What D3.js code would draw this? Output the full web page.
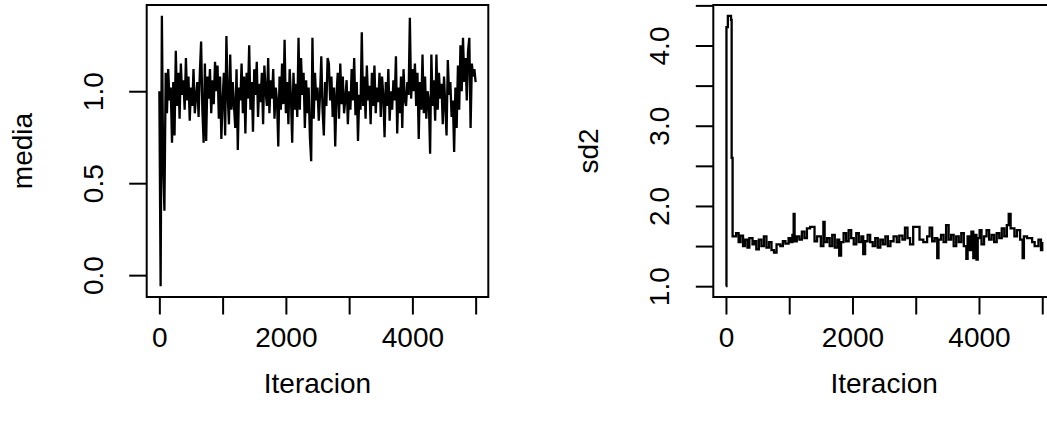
<!DOCTYPE html>
<html lang="en">
<head>
<meta charset="UTF-8">
<title>Trazas MCMC</title>
<script src="https://d3js.org/d3.v7.min.js"></script>
<style>
  body { margin: 0; background: #fff; }
  svg { display: block; font-family: "Liberation Sans", Arial, sans-serif; }
  .tick line { stroke: #000; stroke-width: 2; }
  .tick text { font-size: 28px; fill: #000; }
</style>
</head>
<body>
<svg id="chart" width="1047" height="426"></svg>
<script>
// media: one sample kept every 20 iterations (0 .. 5000)
const mediaIter = d3.range(0, 5001, 20);
const media = [
  1.00, -0.06, 1.41, 0.60, 0.35, 1.10, 0.88, 1.12, 0.95, 1.02,
  0.72, 1.05, 0.76, 1.22, 0.92, 1.10, 0.85, 1.15, 0.98, 1.06,
  0.90, 1.18, 0.95, 1.08, 0.84, 1.02, 0.92, 1.12, 0.88, 0.97,
  1.05, 0.86, 1.10, 1.27, 0.90, 0.72, 1.15, 0.73, 1.08, 0.96,
  1.12, 0.88, 1.06, 0.93, 1.16, 1.00, 1.14, 0.85, 1.08, 0.74,
  0.95, 1.10, 0.76, 1.30, 0.98, 0.82, 1.20, 0.90, 1.05, 0.92,
  0.80, 1.12, 0.68, 1.02, 0.95, 1.15, 0.88, 1.08, 0.77, 1.10,
  0.96, 1.25, 0.90, 1.05, 0.78, 1.12, 0.98, 1.16, 0.86, 1.04,
  0.94, 1.10, 0.82, 1.14, 1.00, 0.92, 1.18, 0.88, 1.06, 0.96,
  1.12, 0.85, 1.02, 0.95, 0.70, 1.08, 0.90, 1.15, 0.93, 1.28,
  0.88, 1.05, 0.82, 1.12, 0.97, 0.72, 1.10, 0.90, 1.04, 0.86,
  1.29, 0.90, 1.18, 0.98, 1.10, 0.80, 1.06, 0.88, 1.02, 0.75,
  0.62, 1.29, 0.85, 1.10, 0.95, 1.02, 0.84, 0.98, 1.19, 0.90,
  0.76, 1.05, 0.92, 1.18, 1.15, 0.95, 1.08, 0.86, 1.02, 0.70,
  0.98, 1.10, 0.85, 1.15, 0.93, 1.08, 0.88, 0.96, 1.06, 0.82,
  1.00, 0.90, 1.12, 0.95, 1.18, 0.87, 1.05, 0.73, 0.98, 0.90,
  1.32, 0.92, 1.08, 0.85, 1.14, 0.95, 1.03, 0.82, 1.10, 0.92,
  1.14, 0.88, 1.02, 0.94, 1.10, 0.86, 1.08, 0.98, 0.75, 1.05,
  0.92, 1.12, 0.84, 1.00, 0.90, 1.06, 0.95, 1.19, 0.77, 1.02,
  0.88, 1.08, 0.80, 1.12, 0.95, 0.92, 1.05, 0.98, 1.40, 0.96,
  1.12, 1.00, 1.15, 0.92, 1.10, 0.74, 1.05, 0.90, 1.20, 0.88,
  1.08, 0.85, 1.00, 0.95, 0.66, 1.20, 0.92, 1.06, 0.84, 1.20,
  0.90, 1.10, 0.96, 1.04, 0.82, 1.08, 0.92, 0.76, 1.17, 0.98,
  1.05, 0.86, 0.95, 0.67, 1.02, 0.80, 1.14, 0.90, 1.25, 1.00,
  1.29, 1.05, 1.18, 0.95, 1.22, 1.29, 0.80, 1.15, 1.08, 1.12,
  1.05
];

// sd2: Metropolis chain, stored as the iterations where the value changes
const sd2Iter = [
  0, 8, 30, 80, 90, 105, 160, 200, 230, 270, 300, 340, 370, 420, 450, 480,
  520, 560, 600, 640, 680, 720, 760, 800, 860, 900, 940, 990, 1020, 1050,
  1070, 1085, 1120, 1160, 1200, 1240, 1280, 1330, 1400, 1440, 1500, 1540,
  1560, 1600, 1640, 1680, 1720, 1760, 1790, 1820, 1860, 1900, 1940, 1980,
  2020, 2060, 2100, 2140, 2170, 2200, 2240, 2280, 2320, 2360, 2400, 2440,
  2480, 2520, 2560, 2600, 2650, 2700, 2740, 2790, 2830, 2870, 2910, 2960,
  3060, 3120, 3180, 3220, 3260, 3300, 3340, 3360, 3400, 3440, 3480, 3520,
  3560, 3600, 3640, 3680, 3720, 3760, 3800, 3820, 3850, 3880, 3910, 3930,
  3960, 3980, 4010, 4040, 4080, 4120, 4160, 4200, 4240, 4280, 4320, 4360,
  4400, 4440, 4470, 4500, 4560, 4600, 4650, 4690, 4710, 4760, 4840, 4880,
  4940, 4980, 5000
];
const sd2 = [
  1.00, 4.23, 4.37, 4.32, 2.60, 1.62, 1.66, 1.55, 1.63, 1.50, 1.58, 1.48, 1.60, 1.52, 1.56, 1.46,
  1.58, 1.50, 1.62, 1.48, 1.55, 1.45, 1.42, 1.52, 1.50, 1.56, 1.53, 1.60, 1.55, 1.64,
  1.90, 1.56, 1.62, 1.58, 1.68, 1.60, 1.72, 1.74, 1.56, 1.62, 1.50, 1.80,
  1.55, 1.60, 1.50, 1.64, 1.48, 1.58, 1.38, 1.55, 1.66, 1.56, 1.70, 1.60,
  1.52, 1.66, 1.55, 1.62, 1.40, 1.56, 1.64, 1.55, 1.50, 1.60, 1.48, 1.58,
  1.52, 1.62, 1.50, 1.56, 1.62, 1.55, 1.63, 1.58, 1.73, 1.60, 1.52, 1.74,
  1.58, 1.55, 1.62, 1.73, 1.56, 1.60, 1.35, 1.58, 1.64, 1.55, 1.76, 1.58,
  1.64, 1.50, 1.62, 1.55, 1.66, 1.50, 1.34, 1.62, 1.45, 1.68, 1.35, 1.64,
  1.33, 1.60, 1.70, 1.52, 1.62, 1.70, 1.58, 1.64, 1.55, 1.66, 1.60, 1.72,
  1.62, 1.76, 1.90, 1.72, 1.62, 1.70, 1.58, 1.35, 1.62, 1.60, 1.55, 1.50,
  1.58, 1.45, 1.55
];

const xTicks = [0, 1000, 2000, 3000, 4000, 5000];
const xLabels = [0, 2000, 4000];
const mediaTicks = [0, 0.5, 1.0];
const mediaLabels = [0, 0.5, 1.0];
const sd2Ticks = [1.0, 1.5, 2.0, 2.5, 3.0, 3.5, 4.0, 4.5];
const sd2Labels = [1.0, 2.0, 3.0, 4.0];

const svg = d3.select('#chart');
const boxTop = 5, boxBottom = 297, boxW = 341.6;
const tickLen = 17.5;

// R style range: data extent widened 4% on each side
function pad(ext) {
  const r = ext[1] - ext[0];
  return [ext[0] - 0.04 * r, ext[1] + 0.04 * r];
}

function drawPanel(p) {
  const g = svg.append('g');
  const x = d3.scaleLinear().domain(pad(d3.extent(p.iter))).range([p.left, p.left + boxW]);
  const y = d3.scaleLinear().domain(pad(d3.extent(p.values))).range([boxBottom, boxTop]);

  const line = d3.line()
    .x((d, i) => x(p.iter[i]))
    .y(d => y(d))
    .curve(p.step ? d3.curveStepAfter : d3.curveLinear);

  g.append('path')
    .datum(p.values)
    .attr('d', line)
    .attr('fill', 'none')
    .attr('stroke', '#000')
    .attr('stroke-width', 2.3)
    .attr('stroke-linejoin', 'miter');

  g.append('rect')
    .attr('x', p.left).attr('y', boxTop)
    .attr('width', boxW).attr('height', boxBottom - boxTop)
    .attr('fill', 'none').attr('stroke', '#000').attr('stroke-width', 2);

  const xa = g.append('g')
    .attr('transform', `translate(0,${boxBottom})`)
    .call(d3.axisBottom(x)
      .tickValues(xTicks)
      .tickSize(tickLen)
      .tickPadding(12.6)
      .tickFormat(d => xLabels.includes(d) ? d : ''));
  xa.select('.domain').remove();

  const yTicks = p.ticks.filter(t => t >= y.domain()[0] && t <= y.domain()[1]);
  const ya = g.append('g')
    .attr('transform', `translate(${p.left},0)`)
    .call(d3.axisLeft(y)
      .tickValues(yTicks)
      .tickSize(tickLen)
      .tickFormat(d => p.labels.includes(d) ? d3.format('.1f')(d) : ''));
  ya.select('.domain').remove();
  ya.selectAll('.tick text')
    .attr('transform', 'rotate(-90)')
    .attr('x', 0)
    .attr('y', -44)
    .attr('dy', 0)
    .attr('text-anchor', 'middle');

  g.append('text')
    .attr('x', p.left + boxW / 2)
    .attr('y', 393)
    .attr('text-anchor', 'middle')
    .attr('font-size', 28)
    .text('Iteracion');

  g.append('text')
    .attr('transform', `translate(${p.left - p.titleGap},${(boxTop + boxBottom) / 2}) rotate(-90)`)
    .attr('text-anchor', 'middle')
    .attr('font-size', 28)
    .text(p.title);
}

drawPanel({ iter: mediaIter, values: media, left: 146.7, ticks: mediaTicks, labels: mediaLabels, title: 'media', titleGap: 114.5, step: false });
drawPanel({ iter: sd2Iter, values: sd2, left: 713.3, ticks: sd2Ticks, labels: sd2Labels, title: 'sd2', titleGap: 115, step: true });
</script>
</body>
</html>
